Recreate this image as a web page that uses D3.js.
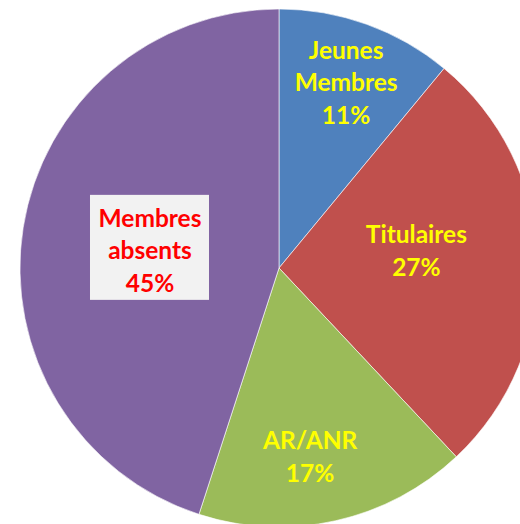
<!DOCTYPE html>
<html><head><meta charset="utf-8">
<script src="https://cdn.jsdelivr.net/npm/d3@7"></script>
<style>html,body{margin:0;padding:0;background:#fff;}svg{display:block;}</style>
</head><body>
<script>
// Data
const categories = ["Jeunes Membres", "Titulaires", "AR/ANR", "Membres absents"];
const labelLines = [["Jeunes", "Membres"], ["Titulaires"], ["AR/ANR"], ["Membres", "absents"]];
const values = [11, 27, 17, 45];

// Styling / layout (not data)
const colors = ["#4f81bd", "#c0504d", "#9bbb59", "#8064a2"];
const textColors = ["#ffff00", "#ffff00", "#ffff00", "#ff0000"];
const labelRadius = [0.765, 0.535, 0.735, 0.503];   // fraction of radius
const labelAngleShift = [0, -5.7, 3.2, -1];          // degrees

const W = 520, H = 524;
const cx = 279, cy = 268, R = 259;
const svg = d3.select("body").append("svg").attr("width", W).attr("height", H);
const g = svg.append("g").attr("transform", `translate(${cx},${cy})`);

const pie = d3.pie().sort(null).value(d => d.v);
const arcs = pie(values.map((v, i) => ({v, i})));
const arc = d3.arc().innerRadius(0).outerRadius(R);

g.selectAll("path.slice").data(arcs).enter().append("path")
  .attr("class", "slice")
  .attr("d", arc)
  .attr("fill", d => colors[d.data.i])
  .attr("stroke", "#ffffff").attr("stroke-width", 0.6);

const fs = 24.5, lh = 32.5;
const total = d3.sum(values);
arcs.forEach(d => {
  const i = d.data.i;
  const a = (d.startAngle + d.endAngle) / 2 + labelAngleShift[i] * Math.PI / 180;
  const r = R * labelRadius[i];
  const x = r * Math.sin(a), y = -r * Math.cos(a);
  const lines = labelLines[i].concat([Math.round(values[i] / total * 100) + "%"]);
  const lg = g.append("g").attr("transform", `translate(${x},${y})`);
  if (i === 3) {
    lg.append("rect").attr("x", -60).attr("y", -55).attr("width", 119).attr("height", 105).attr("fill", "#f2f2f2");
  }
  const n = lines.length;
  lines.forEach((t, k) => {
    lg.append("text")
      .attr("x", 0).attr("y", (k - (n - 1) / 2) * lh)
      .attr("text-anchor", "middle").attr("dominant-baseline", "central")
      .attr("font-family", "Lato, 'Open Sans', sans-serif").attr("font-weight", "bold")
      .attr("font-size", fs).attr("fill", textColors[i]).text(t);
  });
});
</script>
</body></html>
